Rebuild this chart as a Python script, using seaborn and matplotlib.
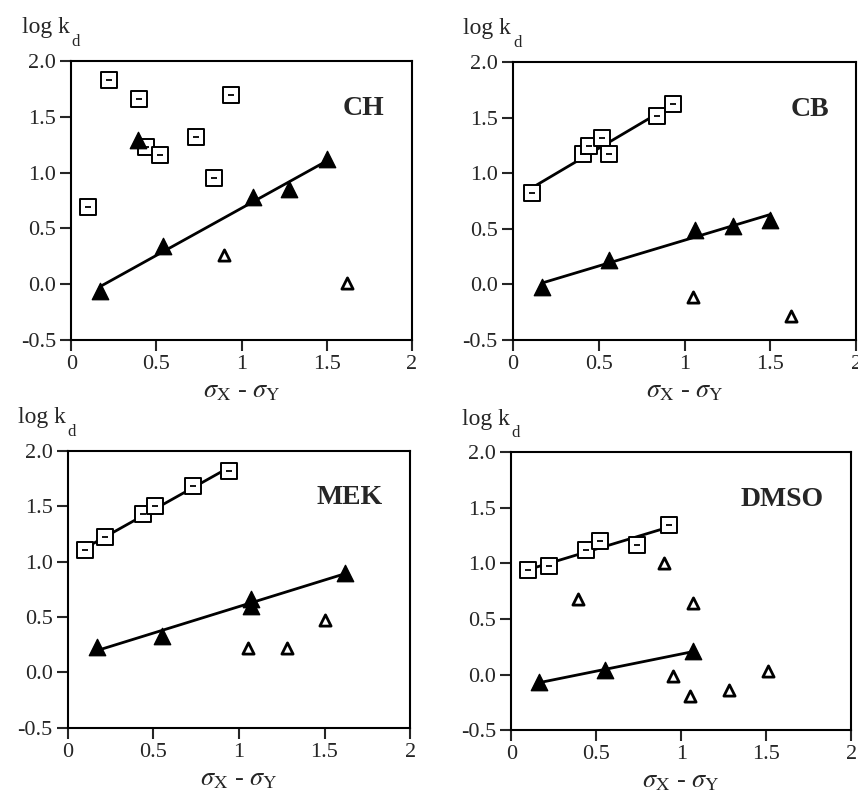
import numpy as np
import matplotlib
matplotlib.use('Agg')
import matplotlib.pyplot as plt
import seaborn as sns

# Data: open squares, filled triangles (fitted), open triangles
ch_sq_x = [0.10, 0.22, 0.40, 0.44, 0.52, 0.73, 0.84, 0.94]
ch_sq_y = [0.69, 1.83, 1.66, 1.23, 1.16, 1.32, 0.95, 1.70]
ch_fill_x = [0.17, 0.54, 1.07, 1.28, 1.50]
ch_fill_y = [-0.06, 0.34, 0.78, 0.85, 1.12]
ch_extra_x = [0.39]
ch_extra_y = [1.29]
ch_open_x = [0.90, 1.62]
ch_open_y = [0.26, 0.01]

cb_sq_x = [0.11, 0.41, 0.44, 0.52, 0.56, 0.84, 0.93]
cb_sq_y = [0.82, 1.17, 1.24, 1.32, 1.17, 1.51, 1.62]
cb_fill_x = [0.17, 0.56, 1.06, 1.28, 1.50]
cb_fill_y = [-0.03, 0.22, 0.49, 0.52, 0.58]
cb_open_x = [1.05, 1.62]
cb_open_y = [-0.12, -0.29]

mek_sq_x = [0.10, 0.22, 0.44, 0.51, 0.73, 0.94]
mek_sq_y = [1.10, 1.22, 1.43, 1.50, 1.68, 1.82]
mek_fill_x = [0.17, 0.55, 1.07, 1.07, 1.62]
mek_fill_y = [0.23, 0.33, 0.66, 0.60, 0.90]
mek_open_x = [1.05, 1.28, 1.50]
mek_open_y = [0.22, 0.22, 0.47]

dmso_sq_x = [0.10, 0.22, 0.44, 0.52, 0.74, 0.93]
dmso_sq_y = [0.94, 0.98, 1.12, 1.20, 1.17, 1.35]
dmso_fill_x = [0.16, 0.55, 1.07]
dmso_fill_y = [-0.07, 0.04, 0.21]
dmso_open_x = [0.39, 0.90, 1.07, 0.95, 1.05, 1.28, 1.51]
dmso_open_y = [0.68, 1.00, 0.64, -0.01, -0.19, -0.14, 0.03]

panels = [
    ('CH', [0.083, 0.578, 0.397, 0.346], ch_sq_x, ch_sq_y, False, ch_fill_x, ch_fill_y, ch_open_x, ch_open_y),
    ('CB', [0.598, 0.578, 0.400, 0.345], cb_sq_x, cb_sq_y, True, cb_fill_x, cb_fill_y, cb_open_x, cb_open_y),
    ('MEK', [0.079, 0.096, 0.399, 0.344], mek_sq_x, mek_sq_y, True, mek_fill_x, mek_fill_y, mek_open_x, mek_open_y),
    ('DMSO', [0.596, 0.093, 0.396, 0.345], dmso_sq_x, dmso_sq_y, True, dmso_fill_x, dmso_fill_y, dmso_open_x, dmso_open_y),
]

sns.set_style('ticks')
plt.rcParams['font.family'] = ['Liberation Serif', 'DejaVu Serif']
plt.rcParams['mathtext.fontset'] = 'stix'
plt.rcParams['axes.linewidth'] = 1.5

fig = plt.figure(figsize=(8.58, 8.05), dpi=100)

for name, rect, sx, sy, fit_sq, fx, fy, ox, oy in panels:
    ax = fig.add_axes(rect)
    if fit_sq:
        sns.regplot(x=sx, y=sy, ax=ax, scatter=False, ci=None, truncate=True,
                    line_kws={'color': 'black', 'lw': 2})
    sns.regplot(x=fx, y=fy, ax=ax, scatter=False, ci=None, truncate=True,
                line_kws={'color': 'black', 'lw': 2})
    sns.scatterplot(x=sx, y=sy, ax=ax, marker='s', s=120, facecolor='white',
                    edgecolor='black', linewidth=1.4, zorder=3)
    ax.scatter(sx, sy, marker='_', s=14, color='black', linewidth=1.3, zorder=4)
    sns.scatterplot(x=fx, y=fy, ax=ax, marker='^', s=140, color='black',
                    edgecolor='black', zorder=3)
    if name == 'CH':
        sns.scatterplot(x=ch_extra_x, y=ch_extra_y, ax=ax, marker='^', s=140,
                        color='black', edgecolor='black', zorder=3)
    sns.scatterplot(x=ox, y=oy, ax=ax, marker='^', s=65, facecolor='white',
                    edgecolor='black', linewidth=2, zorder=3)

    ax.set_xlim(0, 2)
    ax.set_ylim(-0.5, 2.0)
    ax.set_xticks([0, 0.5, 1, 1.5, 2])
    ax.set_xticklabels(['0', '0.5', '1', '1.5', '2'])
    ax.set_yticks([-0.5, 0, 0.5, 1.0, 1.5, 2.0])
    ax.set_yticklabels(['-0.5', '0.0', '0.5', '1.0', '1.5', '2.0'])
    ax.tick_params(direction='out', length=8, width=1.5, labelsize=16, pad=3)
    for sp in ax.spines.values():
        sp.set_visible(True)
        sp.set_color('black')
    ax.set_xlabel(r'$\sigma_{\rm X}$ - $\sigma_{\rm Y}$', fontsize=19, labelpad=5)
    ax.set_ylabel('')
    ax.text(-0.145, 1.10, 'log k', transform=ax.transAxes,
            fontsize=17, ha='left', va='baseline')
    ax.text(0.0, 1.055, 'd', transform=ax.transAxes,
            fontsize=12, ha='left', va='baseline')
    ax.text(0.92, 0.83, name, transform=ax.transAxes, fontsize=20,
            fontweight='bold', ha='right', va='center')

fig.savefig('out.png', dpi=100)
